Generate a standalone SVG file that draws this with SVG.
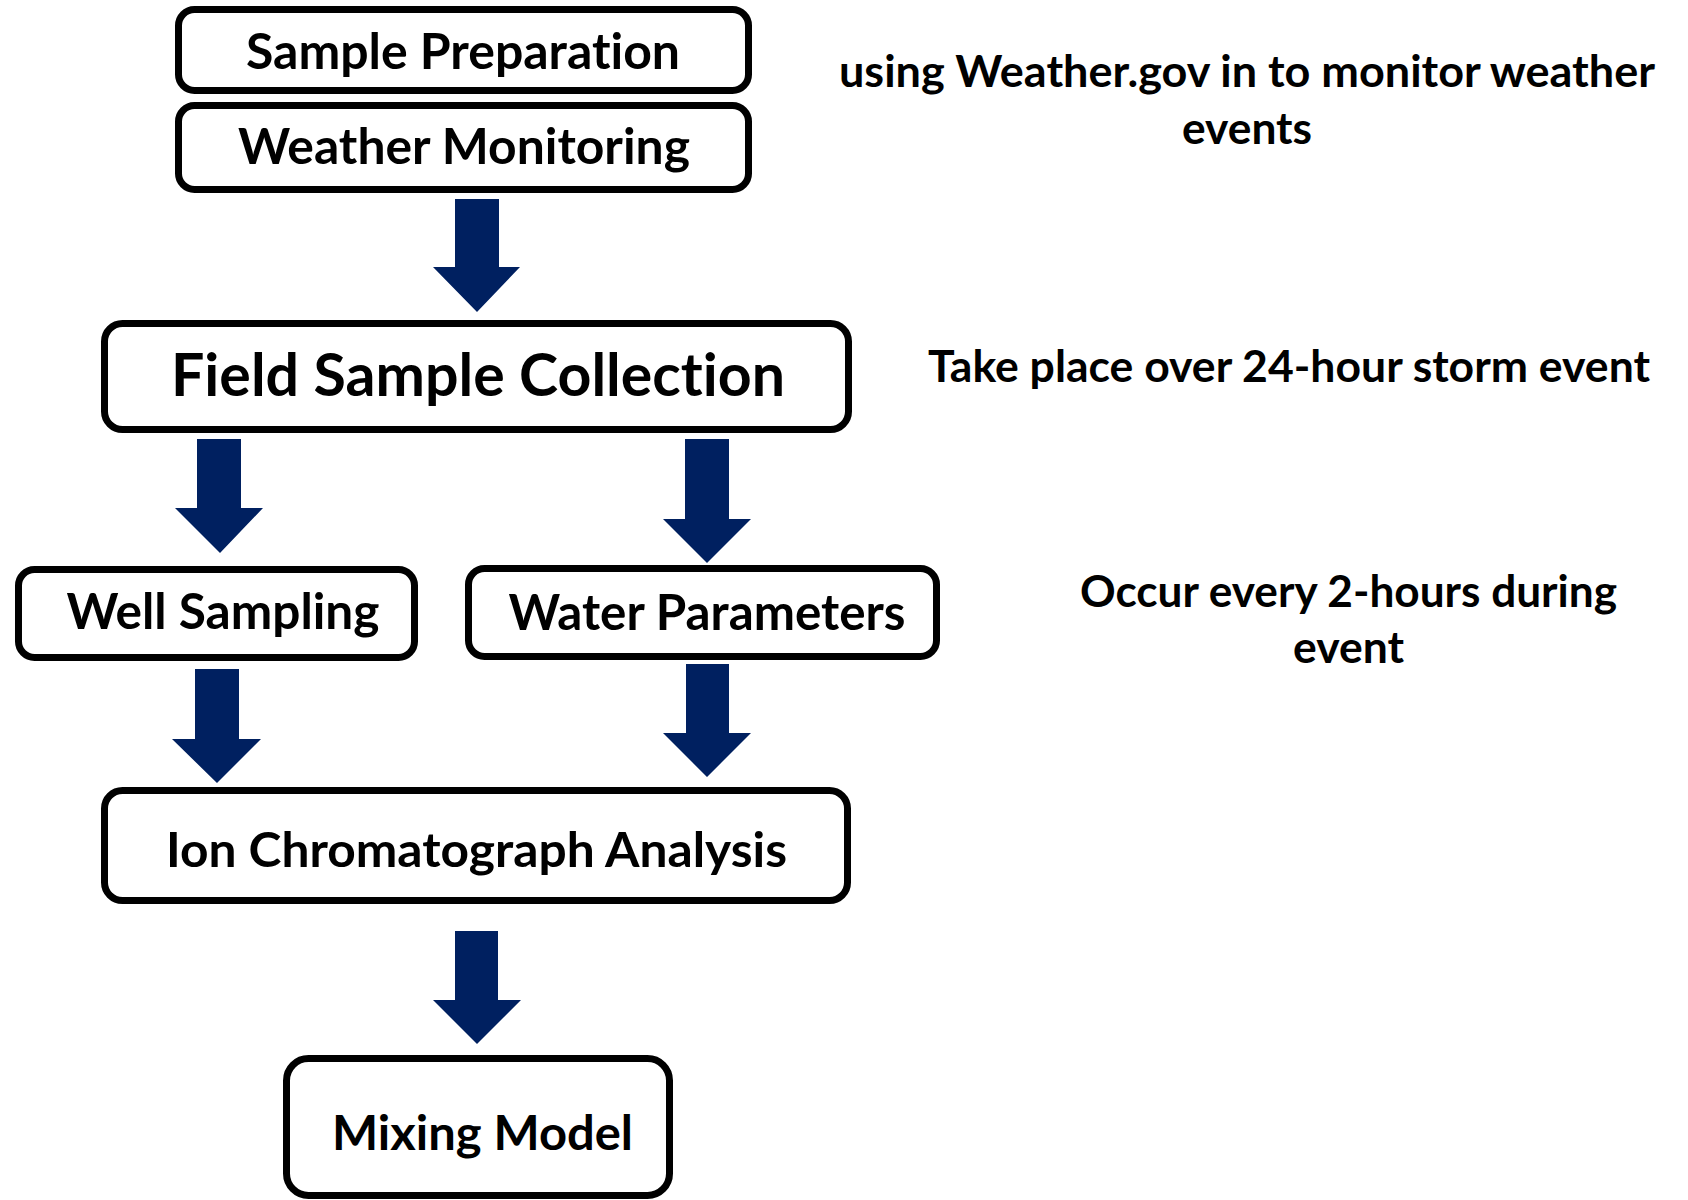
<svg xmlns="http://www.w3.org/2000/svg" width="1688" height="1200" viewBox="0 0 1688 1200">
<style>
.box{fill:#fff;stroke:#000;stroke-width:7}
.t{font-family:Lato,"Liberation Sans",sans-serif;font-weight:bold;fill:#000;font-variant-ligatures:none;font-feature-settings:"liga" 0,"clig" 0}
.arr{fill:#002060}
</style>
<rect width="1688" height="1200" fill="#fff"/>
<g id="connectors">
<polygon class="arr" points="455,199 499,199 499,267 520,267 477,312 433,267 455,267"/>
<polygon class="arr" points="197,439 241,439 241,508 263,508 220,553 175,508 197,508"/>
<polygon class="arr" points="685,439 729,439 729,519 751,519 707,563 663,519 685,519"/>
<polygon class="arr" points="195,669 239,669 239,739 261,739 217,783 172,739 195,739"/>
<polygon class="arr" points="686,664 729,664 729,733 751,733 707,777 663,733 686,733"/>
<polygon class="arr" points="455,931 498,931 498,1000 521,1000 477,1044 433,1000 455,1000"/>
</g>
<g id="sample-preparation">
<rect class="box" x="178.5" y="9.5" width="570" height="81" rx="16"/>
<text class="t" x="463" y="69" font-size="50" text-anchor="middle" textLength="434" lengthAdjust="spacingAndGlyphs">Sample Preparation</text>
</g>
<g id="weather-monitoring">
<rect class="box" x="178.5" y="105.5" width="570" height="84" rx="16"/>
<text class="t" x="464" y="164" font-size="50" text-anchor="middle" textLength="452" lengthAdjust="spacingAndGlyphs">Weather Monitoring</text>
</g>
<g id="field-sample-collection">
<rect class="box" x="104.5" y="323.5" width="744" height="106" rx="18"/>
<text class="t" x="478" y="396" font-size="59" text-anchor="middle" textLength="614" lengthAdjust="spacingAndGlyphs">Field Sample Collection</text>
</g>
<g id="well-sampling">
<rect class="box" x="18.5" y="569.5" width="396" height="88" rx="16"/>
<text class="t" x="223" y="629" font-size="49" text-anchor="middle" textLength="313" lengthAdjust="spacingAndGlyphs">Well Sampling</text>
</g>
<g id="water-parameters">
<rect class="box" x="468.5" y="568.5" width="468" height="88" rx="16"/>
<text class="t" x="707" y="630" font-size="49" text-anchor="middle" textLength="397" lengthAdjust="spacingAndGlyphs">Water Parameters</text>
</g>
<g id="ion-chromatograph-analysis">
<rect class="box" x="104.5" y="790.5" width="743" height="110" rx="18"/>
<text class="t" x="476.5" y="867" font-size="47" text-anchor="middle" textLength="621" lengthAdjust="spacingAndGlyphs">Ion Chromatograph Analysis</text>
</g>
<g id="mixing-model">
<rect class="box" x="286.5" y="1058.5" width="383" height="137" rx="22"/>
<text class="t" x="482.5" y="1150" font-size="47" text-anchor="middle" textLength="301" lengthAdjust="spacingAndGlyphs">Mixing Model</text>
</g>
<g id="notes">
<text class="t" x="1247" y="87" font-size="44" text-anchor="middle" textLength="816" lengthAdjust="spacingAndGlyphs">using Weather.gov in to monitor weather</text>
<text class="t" x="1247" y="144" font-size="44" text-anchor="middle" textLength="130" lengthAdjust="spacingAndGlyphs">events</text>
<text class="t" x="1289" y="382" font-size="44" text-anchor="middle" textLength="722" lengthAdjust="spacingAndGlyphs">Take place over 24-hour storm event</text>
<text class="t" x="1348.5" y="607" font-size="44" text-anchor="middle" textLength="537" lengthAdjust="spacingAndGlyphs">Occur every 2-hours during</text>
<text class="t" x="1348.5" y="663" font-size="44" text-anchor="middle" textLength="111" lengthAdjust="spacingAndGlyphs">event</text>
</g>
</svg>
